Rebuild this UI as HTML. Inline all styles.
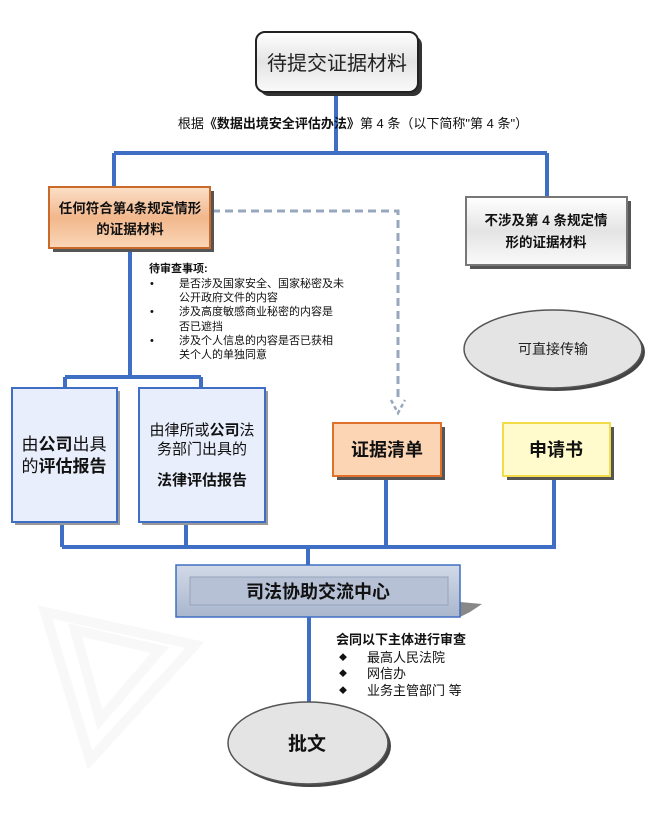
<!DOCTYPE html>
<html><head><meta charset="utf-8"><style>
body{margin:0;background:#fff;}
svg text{font-family:"Liberation Sans","Noto Sans CJK SC",sans-serif;}
</style></head><body>
<svg width="672" height="809" viewBox="0 0 672 809" xmlns="http://www.w3.org/2000/svg">
<defs>
<linearGradient id="gw" x1="0" y1="0" x2="0" y2="1"><stop offset="0" stop-color="#fff"/><stop offset="0.5" stop-color="#e4e4e4"/><stop offset="1" stop-color="#fafafa"/></linearGradient>
<linearGradient id="go" x1="0" y1="0" x2="0" y2="1"><stop offset="0" stop-color="#fbe0c8"/><stop offset="0.5" stop-color="#f2b78c"/><stop offset="1" stop-color="#fad7b8"/></linearGradient>
<linearGradient id="gb" x1="0" y1="0" x2="0" y2="1"><stop offset="0" stop-color="#d2dae8"/><stop offset="1" stop-color="#a9b6cc"/></linearGradient>
</defs>
<!-- watermark -->
<path d="M45 612 L195 645 L90 760 Z M75 630 L160 650 L100 720 Z" fill="none" stroke="#f8f8f8" stroke-width="10"/>
<g stroke="#3f6fc4" stroke-width="4" fill="none">
<path d="M336 92 V153 M114 153 H547 M114 153 V187 M547 153 V197"/>
<path d="M130 248 V377 M65 377 H201 M65 377 V388 M201 377 V388"/>
<path d="M62 522 V547 M186 522 V547 M386 476 V547 M554 476 V547 M62 547 H556 M308 547 V565"/>
<path d="M309 617 V702"/>
</g>
<!-- dashed -->
<path d="M212 211 H398 V398" fill="none" stroke="#97a7bd" stroke-width="3" stroke-dasharray="8 5"/>
<path d="M391 400 L398 413 L405 400" fill="none" stroke="#97a7bd" stroke-width="2.5" stroke-dasharray="4 3"/>
<!-- top box -->
<rect x="260" y="36" width="162" height="60" rx="9" fill="#333"/>
<rect x="256" y="32" width="162" height="60" rx="9" fill="url(#gw)" stroke="#222" stroke-width="2"/>
<text x="337" y="70" font-size="20" text-anchor="middle" fill="#222">待提交证据材料</text>
<text x="353" y="128" font-size="13" text-anchor="middle" fill="#111">根据<tspan font-weight="bold">《数据出境安全评估办法》</tspan>第 4 条（以下简称"第 4 条"）</text>
<!-- left orange -->
<rect x="53" y="191" width="161" height="61" fill="#555"/>
<rect x="49" y="187" width="161" height="61" fill="url(#go)" stroke="#c96a2a" stroke-width="2"/>
<text x="130" y="213" font-size="13.5" font-weight="bold" text-anchor="middle" fill="#111">任何符合第4条规定情形</text>
<text x="130" y="234" font-size="13.5" font-weight="bold" text-anchor="middle" fill="#111">的证据材料</text>
<!-- right grey -->
<rect x="470" y="201" width="161" height="68" fill="#555"/>
<rect x="466" y="197" width="161" height="68" fill="url(#gw)" stroke="#777" stroke-width="2"/>
<text x="546" y="225" font-size="13.5" font-weight="bold" text-anchor="middle" fill="#111">不涉及第 4 条规定情</text>
<text x="546" y="247" font-size="13.5" font-weight="bold" text-anchor="middle" fill="#111">形的证据材料</text>
<!-- review items -->
<g font-size="11" fill="#111">
<text x="149" y="272" font-weight="bold">待审查事项:</text>
<text x="150" y="287">•</text><text x="179" y="287">是否涉及国家安全、国家秘密及未</text>
<text x="179" y="301">公开政府文件的内容</text>
<text x="150" y="315">•</text><text x="179" y="315">涉及高度敏感商业秘密的内容是</text>
<text x="179" y="330">否已遮挡</text>
<text x="150" y="344">•</text><text x="179" y="344">涉及个人信息的内容是否已获相</text>
<text x="179" y="358">关个人的单独同意</text>
</g>
<!-- ellipse direct -->
<ellipse cx="556" cy="352" rx="89" ry="39" fill="#444"/>
<ellipse cx="553" cy="349" rx="89" ry="39" fill="#e4e4e4" stroke="#555" stroke-width="1.5"/>
<text x="553" y="354" font-size="14" text-anchor="middle" fill="#222">可直接传输</text>
<!-- blue boxes -->
<rect x="15" y="391" width="105" height="134" fill="#999"/>
<rect x="12" y="388" width="105" height="134" fill="#e8eefb" stroke="#3f6fc4" stroke-width="2"/>
<text x="64" y="450" font-size="17" text-anchor="middle" fill="#111">由<tspan font-weight="bold">公司</tspan>出具</text>
<text x="64" y="472" font-size="17" text-anchor="middle" fill="#111">的<tspan font-weight="bold">评估报告</tspan></text>
<rect x="142" y="391" width="126" height="134" fill="#999"/>
<rect x="139" y="388" width="126" height="134" fill="#e8eefb" stroke="#3f6fc4" stroke-width="2"/>
<text x="202" y="435" font-size="15" text-anchor="middle" fill="#111">由律所或<tspan font-weight="bold">公司</tspan>法</text>
<text x="202" y="454" font-size="15" text-anchor="middle" fill="#111">务部门出具的</text>
<text x="202" y="485" font-size="15" font-weight="bold" text-anchor="middle" fill="#111">法律评估报告</text>
<!-- 证据清单 -->
<rect x="337" y="427" width="108" height="53" fill="#555"/>
<rect x="333" y="423" width="108" height="53" fill="#fcd5b5" stroke="#e0702a" stroke-width="2"/>
<text x="387" y="456" font-size="18" font-weight="bold" text-anchor="middle" fill="#111">证据清单</text>
<rect x="507" y="427" width="107" height="53" fill="#555"/>
<rect x="503" y="423" width="107" height="53" fill="#fffbcc" stroke="#f2dc4a" stroke-width="2"/>
<text x="556" y="456" font-size="18" font-weight="bold" text-anchor="middle" fill="#111">申请书</text>
<!-- center -->
<path d="M460 602 L482 604 L470 612 L460 617 Z" fill="#888"/>
<rect x="176" y="565" width="284" height="52" fill="url(#gb)" stroke="#3f6fc4" stroke-width="1.5"/>
<rect x="190" y="577" width="258" height="28" fill="#b6c1d6" stroke="#95a3bb" stroke-width="1"/>
<text x="318" y="598" font-size="18" font-weight="bold" text-anchor="middle" fill="#111">司法协助交流中心</text>
<!-- 会同 -->
<g font-size="13" fill="#111">
<text x="336" y="644" font-weight="bold">会同以下主体进行审查</text>
<text x="339" y="660" font-size="8">◆</text><text x="367" y="662">最高人民法院</text>
<text x="339" y="676" font-size="8">◆</text><text x="367" y="678">网信办</text>
<text x="339" y="693" font-size="8">◆</text><text x="367" y="695">业务主管部门  等</text>
</g>
<ellipse cx="311" cy="746" rx="80" ry="41" fill="#444"/>
<ellipse cx="308" cy="743" rx="80" ry="41" fill="#e4e4e4" stroke="#555" stroke-width="1.5"/>
<text x="307" y="750" font-size="19" font-weight="bold" text-anchor="middle" fill="#111">批文</text>
</svg>
</body></html>
